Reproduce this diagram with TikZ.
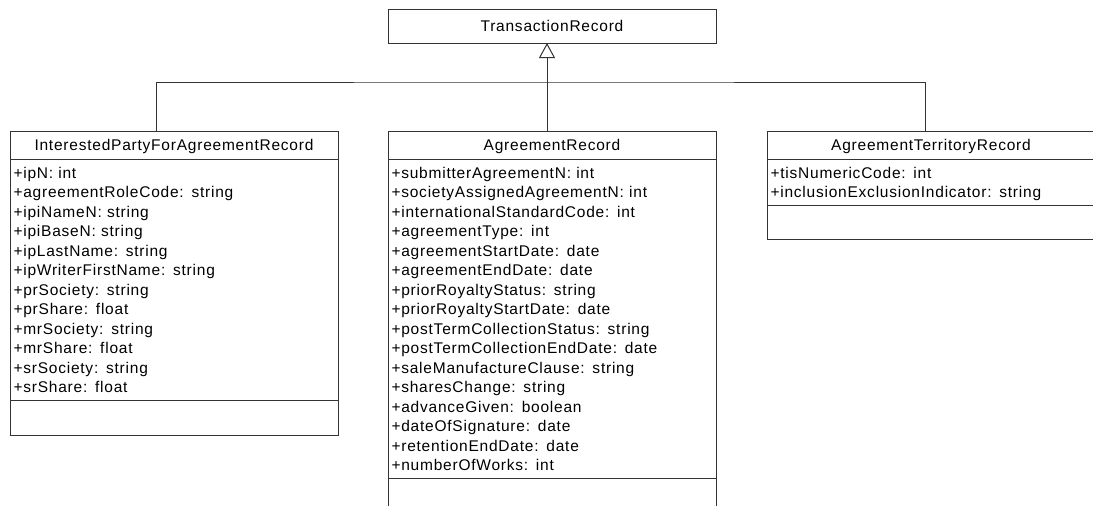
\documentclass[tikz,border=0pt]{standalone}
\usepackage{fontspec}
\newfontfamily\umlfont{Liberation Sans}[LetterSpace=5]
\usetikzlibrary{arrows.meta}

% one attribute row
\newcommand{\row}{\rule[-4pt]{0pt}{19.5pt}}

\begin{document}
\begin{tikzpicture}[x=1pt,y=-1pt,
  font=\umlfont\fontsize{15.5pt}{19.5pt}\selectfont, text=black,
  box/.style={draw=black!80, line width=1pt, outer sep=0pt, minimum width=328pt, anchor=north west},
  title/.style={box, minimum height=28pt, text height=11pt, text depth=0pt},
  fields/.style={box, text width=321pt, inner xsep=3.5pt, inner ysep=3.5pt, align=left},
  ops/.style={box, minimum height=35pt},
  conn/.style={draw=black!80, line width=1pt},
  gen/.style={conn, -{Triangle[open,length=15pt,width=16pt]}}]
\useasboundingbox (0,0) rectangle (1093,506);
\clip (0,0) rectangle (1093,506);
\fill[white] (0,0) rectangle (1093,506);

\node[title, minimum height=34pt] (tr) at (388,9) {TransactionRecord};

% left class
\node[title] (ipa) at (10,131) {InterestedPartyForAgreementRecord};
\node[fields] (ipaF) at (ipa.south west) {\row+ipN: int\\
\row+agreementRoleCode: string\\
\row+ipiNameN: string\\
\row+ipiBaseN: string\\
\row+ipLastName: string\\
\row+ipWriterFirstName: string\\
\row+prSociety: string\\
\row+prShare: float\\
\row+mrSociety: string\\
\row+mrShare: float\\
\row+srSociety: string\\
\row+srShare: float};
\node[ops] (ipaO) at (ipaF.south west) {};

% middle class
\node[title] (ar) at (388,131) {AgreementRecord};
\node[fields] (arF) at (ar.south west) {\row+submitterAgreementN: int\\
\row+societyAssignedAgreementN: int\\
\row+internationalStandardCode: int\\
\row+agreementType: int\\
\row+agreementStartDate: date\\
\row+agreementEndDate: date\\
\row+priorRoyaltyStatus: string\\
\row+priorRoyaltyStartDate: date\\
\row+postTermCollectionStatus: string\\
\row+postTermCollectionEndDate: date\\
\row+saleManufactureClause: string\\
\row+sharesChange: string\\
\row+advanceGiven: boolean\\
\row+dateOfSignature: date\\
\row+retentionEndDate: date\\
\row+numberOfWorks: int};
\node[ops] (arO) at (arF.south west) {};

% right class
\node[title] (atr) at (767,131) {AgreementTerritoryRecord};
\node[fields] (atrF) at (atr.south west) {\row+tisNumericCode: int\\
\row+inclusionExclusionIndicator: string};
\node[ops, minimum height=34pt] (atrO) at (atrF.south west) {};

% generalisation
\coordinate (bus) at (547,82);
\coordinate (ipaUp) at (156,131);
\coordinate (atrUp) at (925,131);
\draw[conn] (ipaUp) |- (bus) -| (atrUp);
\draw[gen] (ar.north -| bus) -- (tr.south -| bus);
\end{tikzpicture}
\end{document}
